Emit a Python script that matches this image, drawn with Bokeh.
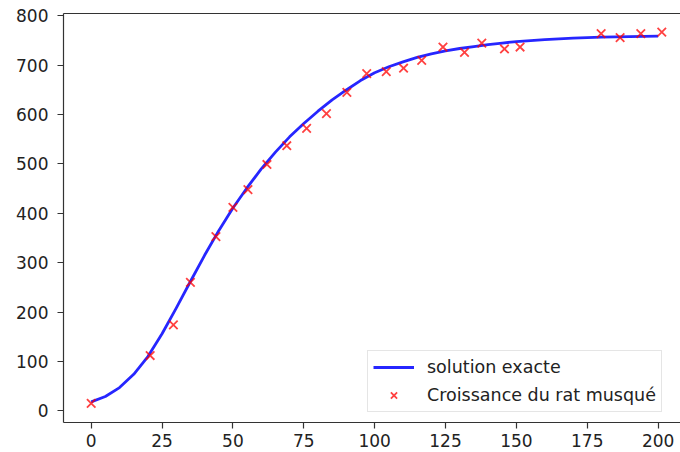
from bokeh.plotting import figure
from bokeh.models import Range1d, LinearAxis, Legend, LegendItem, FixedTicker
from bokeh.embed import file_html
from bokeh.resources import INLINE

# Observed data (Croissance du rat musqué)
obs_x = [0, 20.8, 29, 35, 44, 50, 55.3, 62, 69, 76, 83, 90.2, 97.2, 104.1, 110.2,
         116.6, 124.1, 131.7, 137.8, 145.8, 151.3, 179.9, 186.6, 193.9, 201.3]
obs_y = [15, 112, 174, 260, 353, 412, 448, 499, 537, 572, 602, 645, 683, 687, 694,
         710, 737, 726, 745, 733, 737, 764, 756, 764, 767]

# "solution exacte" curve
sol_x = [0, 5, 10, 15, 20, 25, 30, 35, 40, 45, 50, 55, 60, 65, 70, 75, 80, 85, 90,
         95, 100, 105, 110, 115, 120, 125, 130, 135, 140, 145, 150, 160, 170, 180, 190, 200]
sol_y = [18, 29, 47, 74, 110, 156, 208, 262, 315, 365, 411, 452, 490, 524, 555, 582,
         607, 630, 650, 669, 685, 697, 707, 716, 723, 729, 734, 738, 742, 745, 748,
         752, 755, 757, 758, 759]

x_ticks = [0, 25, 50, 75, 100, 125, 150, 175, 200]
y_ticks = [0, 100, 200, 300, 400, 500, 600, 700, 800]

TXT = "#222222"
AX = "#333333"

p = figure(width=680, height=452, output_backend="svg", toolbar_location=None,
           x_range=Range1d(-9.77, 207.9), y_range=Range1d(-23.7, 804.9),
           min_border_left=63, min_border_right=0, min_border_top=13, min_border_bottom=30)
p.outline_line_color = None
p.xgrid.visible = False
p.ygrid.visible = False
p.background_fill_color = "white"
p.border_fill_color = "white"

for ax in (p.xaxis[0], p.yaxis[0]):
    ax.axis_line_color = AX
    ax.axis_line_width = 1.2
    ax.major_tick_line_color = AX
    ax.major_tick_line_width = 1.2
    ax.major_tick_out = 6
    ax.major_tick_in = 0
    ax.minor_tick_line_color = None
    ax.major_label_text_font = "DejaVu Sans"
    ax.major_label_text_font_size = "17px"
    ax.major_label_text_color = TXT
p.xaxis[0].ticker = FixedTicker(ticks=x_ticks)
p.yaxis[0].ticker = FixedTicker(ticks=y_ticks)
p.xaxis[0].major_label_standoff = 5
p.yaxis[0].major_label_standoff = 9

top = LinearAxis(axis_line_color=AX, axis_line_width=1.2, major_tick_line_color=None,
                 minor_tick_line_color=None, major_label_text_font_size="0px",
                 major_label_standoff=0, ticker=FixedTicker(ticks=[]))
p.add_layout(top, "above")

line = p.line(sol_x, sol_y, line_color="blue", line_width=2.8, line_alpha=0.85,
              line_join="round")
sc = p.scatter(obs_x, obs_y, marker="x", size=12, line_color="red", line_alpha=0.75,
               line_width=1.8)

legend = Legend(items=[LegendItem(label="solution exacte", renderers=[line]),
                       LegendItem(label="Croissance du rat musqué", renderers=[sc])],
                location=(304, 10), padding=5, spacing=6, glyph_width=41, glyph_height=22,
                label_height=22, label_standoff=13, margin=0,
                label_text_font="DejaVu Sans", label_text_font_size="17.5px",
                label_text_color=TXT, border_line_color="#cccccc", border_line_width=1.2,
                background_fill_color="white", background_fill_alpha=0.8)
p.add_layout(legend)

open("out.html", "w").write(file_html(p, INLINE))
